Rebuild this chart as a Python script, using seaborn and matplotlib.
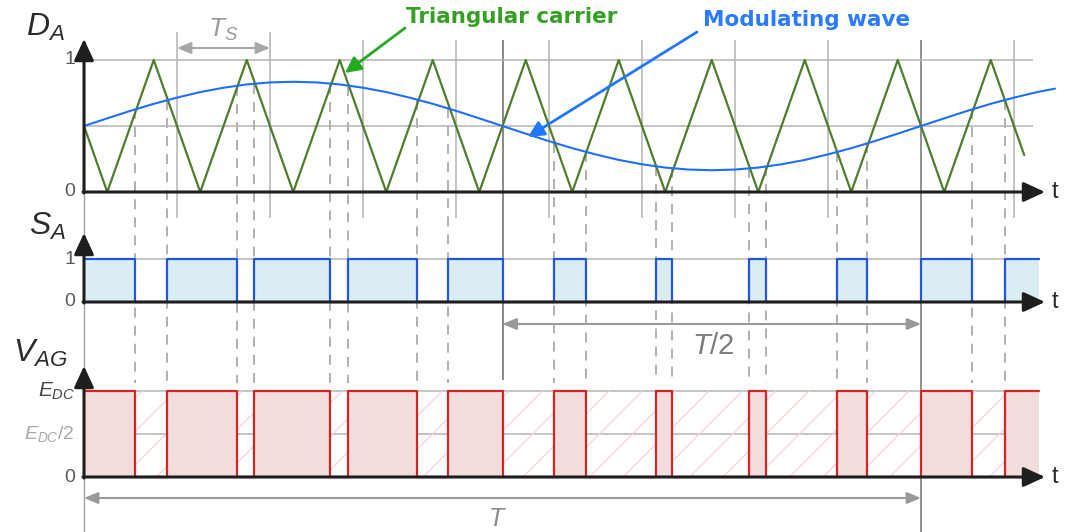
import matplotlib
matplotlib.use('Agg')
import numpy as np
import matplotlib.pyplot as plt
import matplotlib.transforms as mtransforms
import seaborn as sns

# time in units of the carrier period Ts, fundamental period T = 9 Ts
T_PERIOD = 9.0

# triangular carrier (vertices)
carrier_t = [0.0, 0.25, 0.75, 1.25, 1.75, 2.25, 2.75, 3.25, 3.75, 4.25, 4.75,
             5.25, 5.75, 6.25, 6.75, 7.25, 7.75, 8.25, 8.75, 9.25, 9.75, 10.11]
carrier_d = [0.5, 0, 1, 0, 1, 0, 1, 0, 1, 0, 1,
             0, 1, 0, 1, 0, 1, 0, 1, 0, 1, 0.28]

# modulating wave, read every quarter carrier period
mod_t = [0.0, 0.25, 0.5, 0.75, 1.0, 1.25, 1.5, 1.75, 2.0, 2.25, 2.5, 2.75,
         3.0, 3.25, 3.5, 3.75, 4.0, 4.25, 4.5, 4.75, 5.0, 5.25, 5.5, 5.75,
         6.0, 6.25, 6.5, 6.75, 7.0, 7.25, 7.5, 7.75, 8.0, 8.25, 8.5, 8.75,
         9.0, 9.25, 9.5, 9.75, 10.0, 10.25, 10.44]
mod_d = [0.5, 0.558, 0.615, 0.668, 0.715, 0.757, 0.79, 0.815, 0.83, 0.835, 0.83, 0.815,
         0.79, 0.757, 0.715, 0.668, 0.615, 0.558, 0.5, 0.442, 0.385, 0.332, 0.285, 0.243,
         0.21, 0.185, 0.17, 0.165, 0.17, 0.185, 0.21, 0.243, 0.285, 0.332, 0.385, 0.442,
         0.5, 0.558, 0.615, 0.668, 0.715, 0.757, 0.783]

# switching instants and gate state after each instant
sw_t = [0.0, 0.548, 0.892, 1.645, 1.828, 2.645, 2.839, 3.581, 3.914, 4.5, 5.054,
        5.398, 6.151, 6.323, 7.151, 7.333, 8.097, 8.419, 9.0, 9.548, 9.903, 10.27]
sw_s = [1, 0, 1, 0, 1, 0, 1, 0, 1, 0, 1,
        0, 1, 0, 1, 0, 1, 0, 1, 0, 1, 1]

sns.set_style('white')
plt.rcParams['font.family'] = ['Liberation Sans', 'DejaVu Sans']
plt.rcParams['mathtext.fontset'] = 'custom'
plt.rcParams['mathtext.rm'] = 'Liberation Sans'
plt.rcParams['mathtext.it'] = 'Liberation Sans:italic'
plt.rcParams['hatch.linewidth'] = 1.0

# layout in pixels
W, H = 1073, 532
X0, PX_TS = 84, 93.0
TOP_BASE, TOP_UNIT = 192, 132
SA_BASE, SA_UNIT = 302, 43
VAG_BASE, VAG_UNIT = 477, 86

fig = plt.figure(figsize=(W / 100, H / 100), dpi=100)


def pixel_axes(name):
    ax = fig.add_axes([0, 0, 1, 1], label=name)
    ax.set_xlim(0, W)
    ax.set_ylim(H, 0)
    ax.axis('off')
    ax.patch.set_alpha(0)
    return ax


def panel_axes(name, base, unit):
    ax = fig.add_axes([0, 0, 1, 1], label=name)
    ax.set_xlim(-X0 / PX_TS, (W - X0) / PX_TS)
    ax.set_ylim(-(H - base) / unit, base / unit)
    ax.axis('off')
    ax.patch.set_alpha(0)
    return ax


ax0 = pixel_axes('back')
ax1 = panel_axes('DA', TOP_BASE, TOP_UNIT)
ax2 = panel_axes('SA', SA_BASE, SA_UNIT)
ax3 = panel_axes('VAG', VAG_BASE, VAG_UNIT)
axf = pixel_axes('front')

# x in time units, y in pixels
tr = mtransforms.blended_transform_factory(ax1.transData, ax0.transData)

grid_c = '#b4b4b4'
# carrier period grid lines
for k in range(1, 11):
    if k == 9:
        continue
    ax0.vlines(k, 32 if k in (1, 2) else 40, 218, color=grid_c, lw=1.1, transform=tr)
ax0.vlines(0, 40, H, color='#a0a0a0', lw=1.0, transform=tr)
ax0.vlines(T_PERIOD / 2, 40, 380, color='#808080', lw=1.3, transform=tr)
ax0.vlines(T_PERIOD, 40, H, color='#909090', lw=1.4, transform=tr)

# dashed projections of the switching instants
for t in sw_t[1:-1]:
    if t in (T_PERIOD / 2, T_PERIOD):
        continue
    y_top = TOP_BASE - TOP_UNIT * np.interp(t, mod_t, mod_d)
    ax0.vlines(t, y_top, 383, color='#aaaaaa', lw=1.3, linestyles=(0, (5.5, 4.5)), transform=tr)

# period arrows
arr = dict(arrowstyle='<|-|>,head_length=0.6,head_width=0.25', color='#a8a8a8', lw=1.5,
           mutation_scale=14, shrinkA=0, shrinkB=0)
ax0.annotate('', xy=(2, 48), xytext=(1, 48), xycoords=tr, textcoords=tr, arrowprops=arr)
arr2 = dict(arr, color='#999999')
ax0.annotate('', xy=(T_PERIOD, 324), xytext=(T_PERIOD / 2, 324), xycoords=tr, textcoords=tr, arrowprops=arr2)
ax0.annotate('', xy=(T_PERIOD, 498), xytext=(0, 498), xycoords=tr, textcoords=tr, arrowprops=arr2)

# panel grids
ax1.hlines([0.5, 1.0], 0, 10.2, color=grid_c, lw=1.1, zorder=1)
ax2.hlines([1.0], 0, 10.28, color=grid_c, lw=1.1, zorder=1)
ax3.hlines([0.5, 1.0], 0, 10.2, color=grid_c, lw=1.1, zorder=1)

# D_A: carrier and modulating wave
sns.lineplot(x=carrier_t, y=carrier_d, color='#4e7d2b', lw=1.6, ax=ax1, zorder=3)
sns.lineplot(x=mod_t, y=mod_d, color='#1f6fff', lw=1.5, ax=ax1, zorder=4)

# S_A
ax2.fill_between(sw_t, 0, sw_s, step='post', color='#daedf3', lw=0, zorder=2)
sns.lineplot(x=sw_t, y=sw_s, drawstyle='steps-post', color='#2255e0', lw=1.6, ax=ax2, zorder=3)

# V_AG
ax3.fill_between([0, sw_t[-1]], 0, 1, facecolor='none', edgecolor='#f8d6d6', hatch='/', lw=0, zorder=1)
ax3.fill_between(sw_t, 0, sw_s, step='post', color='#f2dcdc', lw=0, zorder=2)
sns.lineplot(x=sw_t, y=sw_s, drawstyle='steps-post', color='#d42525', lw=1.6, ax=ax3, zorder=3)
for ax in (ax1, ax2, ax3):
    ax.set_xlim(-X0 / PX_TS, (W - X0) / PX_TS)
    ax.axis('off')
ax1.set_ylim(-(H - TOP_BASE) / TOP_UNIT, TOP_BASE / TOP_UNIT)
ax2.set_ylim(-(H - SA_BASE) / SA_UNIT, SA_BASE / SA_UNIT)
ax3.set_ylim(-(H - VAG_BASE) / VAG_UNIT, VAG_BASE / VAG_UNIT)

# axes with arrow heads
ax_c = '#1e1e1e'
head = dict(arrowstyle='-|>,head_length=0.65,head_width=0.3', color=ax_c, lw=2.2,
            mutation_scale=20, shrinkA=0, shrinkB=0)
for base, tip in ((TOP_BASE, 39), (SA_BASE, 233), (VAG_BASE, 366)):
    axf.annotate('', xy=(1045, base), xytext=(X0 - 1, base), arrowprops=head)
    axf.annotate('', xy=(X0, tip), xytext=(X0, base + 1), arrowprops=head)
    axf.text(1052, base, 't', fontsize=17, color='#2a2a2a', ha='left', va='center')

# axis titles
axf.text(26, 36, '$D_A$', fontsize=23, color='#2c2c2c', ha='left', va='baseline')
axf.text(29, 235, '$S_A$', fontsize=23, color='#2c2c2c', ha='left', va='baseline')
axf.text(13, 362, '$V_{AG}$', fontsize=23, color='#2c2c2c', ha='left', va='baseline')

# tick labels
tick_c = '#5f5a55'
for y, s in ((60, '1'), (TOP_BASE, '0'), (259, '1'), (SA_BASE, '0'), (VAG_BASE, '0')):
    axf.text(75, y, s, fontsize=14, color=tick_c, ha='right', va='center')
axf.text(75, 391, '$E_{DC}$', fontsize=15, color='#444444', ha='right', va='center')
axf.text(75, 434, '$E_{DC}/2$', fontsize=14, color='#aaaaaa', ha='right', va='center')

# period labels
axf.text(223, 30, '$T_S$', fontsize=19, color='#9a9a9a', ha='center', va='center')
axf.text(713, 346, '$T/2$', fontsize=21, color='#7c7c7c', ha='center', va='center')
axf.text(497, 507, '$T$', fontsize=18, color='#8a8a8a', ha='center', va='top')

# callouts
axf.text(406, 17, 'Triangular carrier', fontsize=15.5, fontweight='bold', family='DejaVu Sans',
         color='#35a024', ha='left', va='center')
axf.annotate('', xy=(345, 73), xytext=(405, 28),
             arrowprops=dict(arrowstyle='-|>,head_length=0.6,head_width=0.3', color='#22aa22',
                             lw=2, mutation_scale=16, shrinkA=0, shrinkB=0))
axf.text(703, 20, 'Modulating wave', fontsize=15.5, fontweight='bold', family='DejaVu Sans',
         color='#2a7bff', ha='left', va='center')
axf.annotate('', xy=(528, 137), xytext=(697, 32),
             arrowprops=dict(arrowstyle='-|>,head_length=0.6,head_width=0.3', color='#2277ff',
                             lw=2, mutation_scale=16, shrinkA=0, shrinkB=0))

fig.savefig('out.png', dpi=100)
